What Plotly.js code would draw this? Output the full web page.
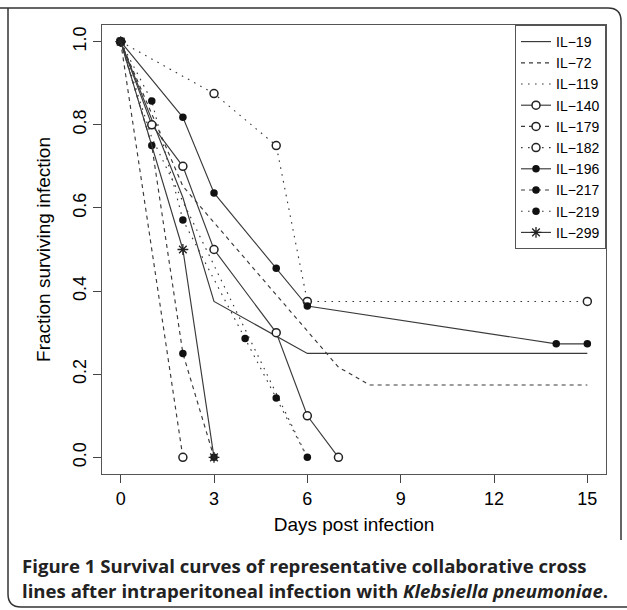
<!DOCTYPE html>
<html>
<head>
<meta charset="utf-8">
<script src="https://cdn.plot.ly/plotly-3.0.1.min.js"></script>
<style>body{margin:0;padding:0;background:#fff;}</style>
</head>
<body>
<div id="chart" style="width:627px;height:610px;"></div>
<script>
// ---- data (days post infection, fraction surviving) ----
const seriesNames = ["IL−19","IL−72","IL−119","IL−140","IL−179","IL−182","IL−196","IL−217","IL−219","IL−299"];
const il19Days  = [0, 2, 3, 6, 15];
const il19Surv  = [1, 0.625, 0.375, 0.25, 0.25];
const il72Days  = [0, 2, 3, 5, 6, 7, 8, 15];
const il72Surv  = [1, 0.652, 0.565, 0.391, 0.304, 0.217, 0.174, 0.174];
const il119Days = [0, 1, 3, 4, 5, 6];
const il119Surv = [1, 0.769, 0.462, 0.308, 0.154, 0];
const il140Days = [0, 1, 2, 3, 5, 6, 7];
const il140Surv = [1, 0.8, 0.7, 0.5, 0.3, 0.1, 0];
const il179Days = [0, 2];
const il179Surv = [1, 0];
const il182Days = [0, 3, 5, 6, 15];
const il182Surv = [1, 0.875, 0.75, 0.375, 0.375];
const il196Days = [0, 2, 3, 5, 6, 14, 15];
const il196Surv = [1, 0.818, 0.636, 0.455, 0.364, 0.273, 0.273];
const il217Days = [0, 1, 2, 3];
const il217Surv = [1, 0.75, 0.25, 0];
const il219Days = [0, 1, 2, 4, 5, 6];
const il219Surv = [1, 0.857, 0.571, 0.286, 0.143, 0];
const il299Days = [0, 2, 3];
const il299Surv = [1, 0.5, 0];
const xTicks = [0, 3, 6, 9, 12, 15];
const yTicks = [0, 0.2, 0.4, 0.6, 0.8, 1.0];

// ---- styles ----
const ink = '#3a3a3a';
const DASH = '4px,4px';
const DOT = '1.6px,5.4px';
function tr(name, x, y, dash, sym) {
  const t = {
    type: 'scatter', name: name, x: x, y: y,
    mode: sym ? 'lines+markers' : 'lines',
    line: {color: ink, width: 1.15, dash: dash}
  };
  if (sym === 'open') t.marker = {symbol: 'circle', size: 8, color: '#fff', line: {color: '#222', width: 1.5}};
  if (sym === 'filled') t.marker = {symbol: 'circle', size: 7.5, color: '#111', line: {color: '#111', width: 0}};
  if (sym === 'star') t.marker = {symbol: 'asterisk-open', size: 9, color: '#222', line: {color: '#222', width: 1.3}};
  return t;
}
const data = [
  tr(seriesNames[0], il19Days, il19Surv, 'solid', null),
  tr(seriesNames[1], il72Days, il72Surv, DASH, null),
  tr(seriesNames[2], il119Days, il119Surv, DOT, null),
  tr(seriesNames[3], il140Days, il140Surv, 'solid', 'open'),
  tr(seriesNames[4], il179Days, il179Surv, DASH, 'open'),
  tr(seriesNames[5], il182Days, il182Surv, DOT, 'open'),
  tr(seriesNames[6], il196Days, il196Surv, 'solid', 'filled'),
  tr(seriesNames[7], il217Days, il217Surv, DASH, 'filled'),
  tr(seriesNames[8], il219Days, il219Surv, DOT, 'filled'),
  tr(seriesNames[9], il299Days, il299Surv, 'solid', 'star')
];

// plot area in pixels
const L = 102, R = 21, T = 25, B = 136, W = 627, H = 610;
const pw = W - L - R, ph = H - T - B;
const px = v => (v - L) / pw;
const py = v => (H - B - v) / ph;

const axFont = {family: 'Liberation Sans, Arial, sans-serif', size: 18, color: '#000'};
const capFont = {family: 'Open Sans, sans-serif', size: 18.6, color: '#222'};
const layout = {
  width: W, height: H,
  margin: {l: L, r: R, t: T, b: B, pad: 0},
  paper_bgcolor: '#fff', plot_bgcolor: '#fff',
  showlegend: true,
  xaxis: {
    range: [-0.6, 15.6], tickvals: xTicks, ticktext: xTicks.map(String),
    ticks: 'outside', ticklen: 8, tickwidth: 1, tickcolor: '#444',
    showline: true, mirror: true, linecolor: '#555', linewidth: 1,
    showgrid: false, zeroline: false, tickfont: axFont, fixedrange: true,
    title: {text: 'Days post infection', font: {family: axFont.family, size: 19, color: '#000'}, standoff: 10}
  },
  yaxis: {
    range: [-0.04, 1.04], tickvals: yTicks, tickformat: '.1f', tickangle: -90,
    ticks: 'outside', ticklen: 8, tickwidth: 1, tickcolor: '#444',
    showline: true, mirror: true, linecolor: '#555', linewidth: 1,
    showgrid: false, zeroline: false, tickfont: axFont, fixedrange: true,
    title: {text: 'Fraction surviving infection', font: {family: axFont.family, size: 19, color: '#000'}, standoff: 14}
  },
  legend: {
    x: 1, xanchor: 'right', y: 1, yanchor: 'top',
    bgcolor: '#fff', bordercolor: '#555', borderwidth: 1,
    font: {family: axFont.family, size: 14, color: '#000'},
    tracegroupgap: 0, itemwidth: 30,
    entrywidth: 100, entrywidthmode: 'pixels'
  },
  shapes: [
    {type: 'path', xref: 'paper', yref: 'paper',
     path: `M ${px(0)},${py(8)} L ${px(608)},${py(8)} Q ${px(621)},${py(8)} ${px(621)},${py(21)} L ${px(621)},${py(540)}`,
     line: {color: '#333', width: 1.5}},
    {type: 'path', xref: 'paper', yref: 'paper',
     path: `M ${px(8)},${py(8)} L ${px(8)},${py(594)} Q ${px(8)},${py(607)} ${px(21)},${py(607)} L ${px(627)},${py(607)}`,
     line: {color: '#333', width: 1.5}}
  ],
  annotations: [
    {xref: 'paper', yref: 'paper', x: px(20), y: py(565), xanchor: 'left', yanchor: 'middle', showarrow: false,
     text: '<b>Figure 1 Survival curves of representative collaborative cross</b>', font: capFont},
    {xref: 'paper', yref: 'paper', x: px(20), y: py(590), xanchor: 'left', yanchor: 'middle', showarrow: false,
     text: '<b>lines after intraperitoneal infection with <i>Klebsiella pneumoniae</i>.</b>', font: capFont}
  ]
};

Plotly.newPlot('chart', data, layout, {staticPlot: true, displayModeBar: false});
</script>
</body>
</html>
